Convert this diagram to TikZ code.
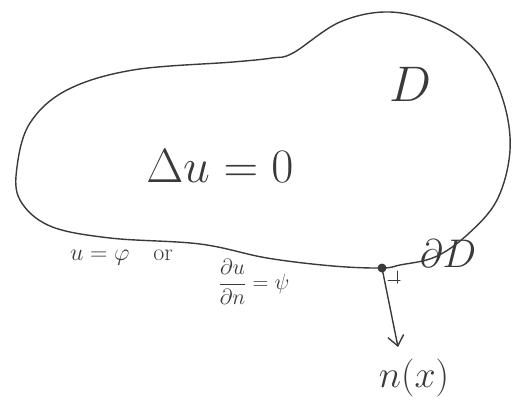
\RequirePackage{fix-cm}
\documentclass[tikz,border=0pt]{standalone}
\usepackage{xcolor}
\usepackage{tikz}
\usetikzlibrary{arrows.meta,positioning,calc}
\definecolor{pencil}{HTML}{3A3A3A}

\begin{document}
\begin{tikzpicture}[x=1pt,y=-1pt,line width=1.4pt,draw=pencil,text=pencil,
  line cap=round,line join=round]
  \useasboundingbox (0,0) rectangle (527,400);

  % the domain
  \draw[smooth cycle,tension=0.6] plot coordinates {
    (293,53) (340,22) (390,12) (440,25) (480,55) (503,100) (510,150)
    (497,200) (467,235) (435,257) (400,265) (382,268) (333,266)
    (267,258) (200,244) (110,238) (50,226) (20,200) (17,167)
    (30,123) (67,90) (133,70) (233,62) (272,58)};

  \node[font=\fontsize{48}{48}\selectfont] (eq) at (220,166) {$\Delta u=0$};
  \node[font=\fontsize{50}{50}\selectfont] (dom) at (410,84) {$D$};
  \node[font=\fontsize{40}{40}\selectfont] (bdry) at (448,254) {$\partial D$};

  % boundary condition
  \node[font=\fontsize{24}{24}\selectfont,anchor=west] (bc) at (66,258)
    {$u=\varphi$\quad or};
  \node[font=\fontsize{22}{22}\selectfont] (bcn) at (254,282)
    {$\displaystyle\frac{\partial u}{\partial n}=\psi$};

  % normal at a boundary point
  \coordinate (x) at (382,268);
  \fill[pencil] (x) circle (4.5);
  \coordinate (tip) at (398,347);
  \draw[-{Straight Barb[length=10pt,width=16pt]}] (x) -- (tip);
  \draw[line width=1pt] (388,280) -- (400,280) (397,271) -- (397,283);
  \node[font=\fontsize{38}{38}\selectfont] (nx) at (414,378) {$n(x)$};
\end{tikzpicture}
\end{document}
